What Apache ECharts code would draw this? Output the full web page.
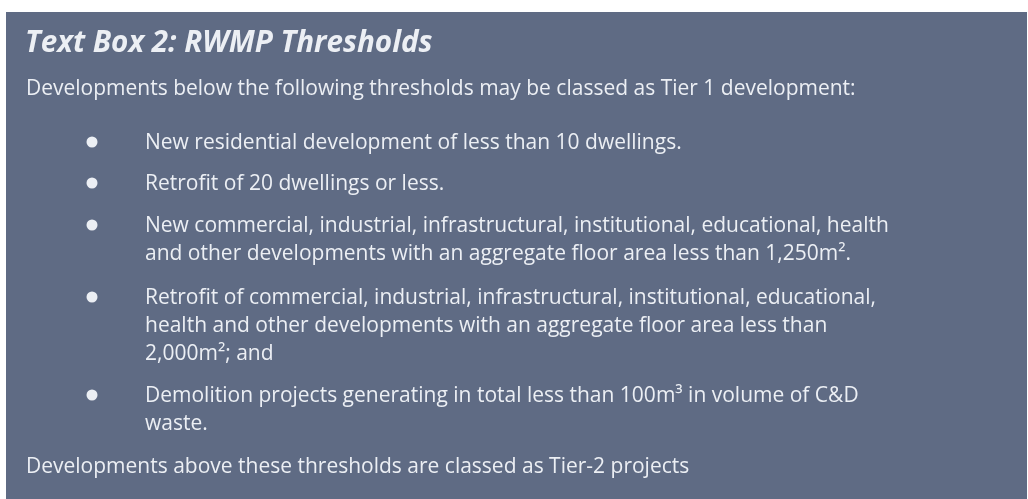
<!DOCTYPE html>
<html>
<head>
<meta charset="utf-8">
<script src="https://cdn.jsdelivr.net/npm/echarts@6/dist/echarts.min.js"></script>
<style>
  html, body { margin: 0; padding: 0; background: #ffffff; }
  #chart { width: 1028px; height: 499px; }
</style>
</head>
<body>
<div id="chart"></div>
<script>
// text content
const titleText = 'Text Box 2: RWMP Thresholds';
const introText = 'Developments below the following thresholds may be classed as Tier 1 development:';
const bulletLines = [
  ['New residential development of less than 10 dwellings.'],
  ['Retrofit of 20 dwellings or less.'],
  ['New commercial, industrial, infrastructural, institutional, educational, health',
   'and other developments with an aggregate floor area less than 1,250m².'],
  ['Retrofit of commercial, industrial, infrastructural, institutional, educational,',
   'health and other developments with an aggregate floor area less than',
   '2,000m²; and'],
  ['Demolition projects generating in total less than 100m³ in volume of C&D',
   'waste.']
];
const outroText = 'Developments above these thresholds are classed as Tier-2 projects';

const chart = echarts.init(document.getElementById('chart'));

const bg = '#5f6b84';
const fg = '#eceff4';
const font = '"Open Sans", sans-serif';
const bodyFont = '21px ' + font;
const lineH = 28;

const elements = [
  { type: 'rect', shape: { x: 6, y: 12, width: 1021, height: 487 }, style: { fill: bg } },
  { type: 'text', x: 25, y: 44, style: { text: titleText, fill: fg, font: 'italic bold 29.6px ' + font, textVerticalAlign: 'middle' } },
  { type: 'text', x: 26, y: 89, style: { text: introText, fill: fg, font: bodyFont, textVerticalAlign: 'middle' } }
];

const bulletStarts = [143, 184, 226, 298, 396];
bulletLines.forEach((lines, i) => {
  const y0 = bulletStarts[i];
  elements.push({ type: 'circle', shape: { cx: 92, cy: y0 - 1, r: 5.5 }, style: { fill: fg } });
  lines.forEach((ln, j) => {
    elements.push({ type: 'text', x: 145, y: y0 + j * lineH, style: { text: ln, fill: fg, font: bodyFont, textVerticalAlign: 'middle' } });
  });
});

elements.push({ type: 'text', x: 26, y: 467, style: { text: outroText, fill: fg, font: bodyFont, textVerticalAlign: 'middle' } });

chart.setOption({
  animation: false,
  graphic: { elements: elements }
});
</script>
</body>
</html>
